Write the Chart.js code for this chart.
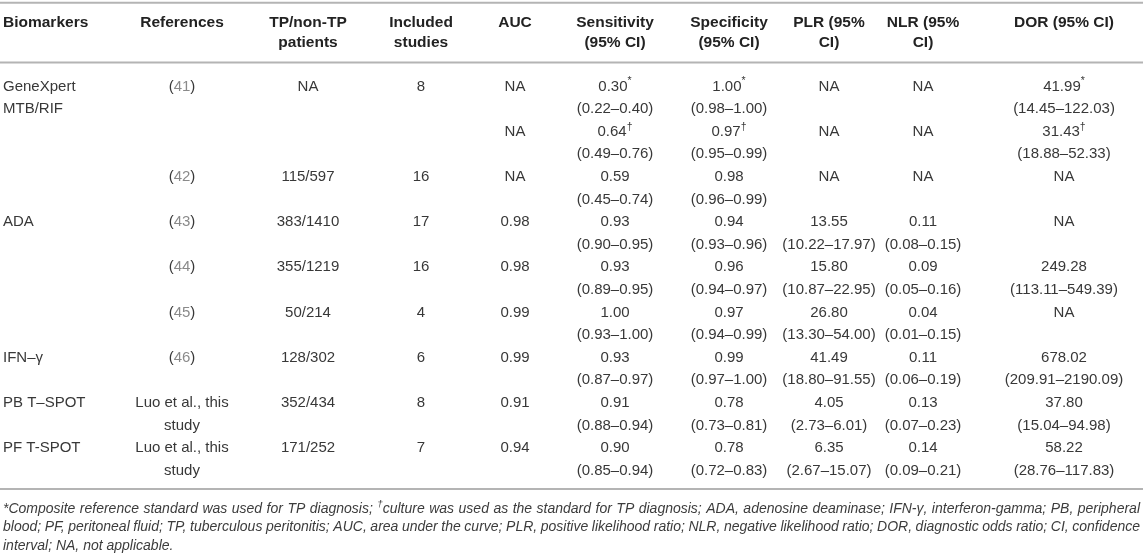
<!DOCTYPE html>
<html>
<head>
<meta charset="utf-8">
<script src="https://cdn.jsdelivr.net/npm/chart.js@4.4.1/dist/chart.umd.min.js"></script>
<style>
  html, body { margin: 0; padding: 0; background: #fff; }
  #wrap { width: 1143px; height: 559px; position: relative; }
</style>
</head>
<body>
<div id="wrap"><canvas id="tableChart"></canvas></div>
<script>
// table contents, one entry per row
const headers = [
    ['Biomarkers'], ['References'], ['TP/non-TP', 'patients'], ['Included', 'studies'], ['AUC'],
    ['Sensitivity', '(95% CI)'], ['Specificity', '(95% CI)'], ['PLR (95%', 'CI)'], ['NLR (95%', 'CI)'], ['DOR (95% CI)']
];
const biomarkers = ['GeneXpert\nMTB/RIF', '', '', 'ADA', '', '', 'IFN–γ', 'PB T–SPOT', 'PF T-SPOT'];
const references = ['(41)', '', '(42)', '(43)', '(44)', '(45)', '(46)', 'Luo et al., this\nstudy', 'Luo et al., this\nstudy'];
const patients = ['NA', '', '115/597', '383/1410', '355/1219', '50/214', '128/302', '352/434', '171/252'];
const studies = ['8', '', '16', '17', '16', '4', '6', '8', '7'];
const auc = ['NA', 'NA', 'NA', '0.98', '0.98', '0.99', '0.99', '0.91', '0.94'];
const sensitivity = ['0.30*', '0.64†', '0.59', '0.93', '0.93', '1.00', '0.93', '0.91', '0.90'];
const sensitivityCI = ['(0.22–0.40)', '(0.49–0.76)', '(0.45–0.74)', '(0.90–0.95)', '(0.89–0.95)', '(0.93–1.00)', '(0.87–0.97)', '(0.88–0.94)', '(0.85–0.94)'];
const specificity = ['1.00*', '0.97†', '0.98', '0.94', '0.96', '0.97', '0.99', '0.78', '0.78'];
const specificityCI = ['(0.98–1.00)', '(0.95–0.99)', '(0.96–0.99)', '(0.93–0.96)', '(0.94–0.97)', '(0.94–0.99)', '(0.97–1.00)', '(0.73–0.81)', '(0.72–0.83)'];
const plr = ['NA', 'NA', 'NA', '13.55', '15.80', '26.80', '41.49', '4.05', '6.35'];
const plrCI = ['', '', '', '(10.22–17.97)', '(10.87–22.95)', '(13.30–54.00)', '(18.80–91.55)', '(2.73–6.01)', '(2.67–15.07)'];
const nlr = ['NA', 'NA', 'NA', '0.11', '0.09', '0.04', '0.11', '0.13', '0.14'];
const nlrCI = ['', '', '', '(0.08–0.15)', '(0.05–0.16)', '(0.01–0.15)', '(0.06–0.19)', '(0.07–0.23)', '(0.09–0.21)'];
const dor = ['41.99*', '31.43†', 'NA', 'NA', '249.28', 'NA', '678.02', '37.80', '58.22'];
const dorCI = ['(14.45–122.03)', '(18.88–52.33)', '', '', '(113.11–549.39)', '', '(209.91–2190.09)', '(15.04–94.98)', '(28.76–117.83)'];
const footnotes = [
    '*Composite reference standard was used for TP diagnosis; †culture was used as the standard for TP diagnosis; ADA, adenosine deaminase; IFN-γ, interferon-gamma; PB, peripheral',
    'blood; PF, peritoneal fluid; TP, tuberculous peritonitis; AUC, area under the curve; PLR, positive likelihood ratio; NLR, negative likelihood ratio; DOR, diagnostic odds ratio; CI, confidence',
    'interval; NA, not applicable.'
];

// layout (table units = px, rows = text lines)
const FONT = '"Liberation Sans", Arial, Helvetica, sans-serif';
const colX = [3, 182, 308, 421, 515, 615, 729, 829, 923, 1064];
const colAlign = ['left', 'center', 'center', 'center', 'center', 'center', 'center', 'center', 'center', 'center'];
const headY = [-2.82, -1.92];
const ruleY = [-3.7, -1.06, 17.81];
const footY = [18.69, 19.5, 20.33];
const FOOT_RIGHT = 1140;
const REF_COLOR = '#8a8a8a';

// each column: value on line 2*row, CI (or wrapped text) on line 2*row+1
const columns = [
    [biomarkers], [references], [patients], [studies], [auc],
    [sensitivity, sensitivityCI], [specificity, specificityCI], [plr, plrCI], [nlr, nlrCI], [dor, dorCI]
];

function cellLines(col, r) {
    if (col.length === 2) return [col[0][r], col[1][r]];
    return col[0][r].split('\n');
}

const datasets = [];

// horizontal rules
ruleY.forEach(y => {
    datasets.push({
        type: 'line',
        data: [{x: 0, y: y}, {x: 1143, y: y}],
        borderColor: '#b4b4b4',
        borderWidth: 2,
        pointRadius: 0,
        clip: false
    });
});

// header cells
headers.forEach((h, c) => {
    datasets.push({
        type: 'scatter',
        data: h.map((t, i) => ({x: colX[c], y: headY[i], t: t})),
        pointRadius: 0,
        textCells: true,
        textAlign: colAlign[c],
        textFont: 'bold 15.5px ' + FONT,
        textColor: '#222222'
    });
});

// body cells
columns.forEach((col, c) => {
    const pts = [];
    for (let r = 0; r < 9; r++) {
        cellLines(col, r).forEach((t, i) => {
            if (t) pts.push({x: colX[c], y: 2 * r + i, t: t});
        });
    }
    datasets.push({
        type: 'scatter',
        data: pts,
        pointRadius: 0,
        textCells: true,
        textAlign: colAlign[c],
        textFont: '15px ' + FONT,
        textColor: '#383838'
    });
});

// footnote, first lines justified
datasets.push({
    type: 'scatter',
    data: footnotes.map((t, i) => ({x: 3, y: footY[i], t: t, justify: i < footnotes.length - 1})),
    pointRadius: 0,
    textCells: true,
    textAlign: 'left',
    textFont: 'italic 14px ' + FONT,
    textColor: '#3c3c3c'
});

// split a cell into normal / superscript / link-coloured pieces
function pieces(t) {
    const m = t.match(/^\((\d+)\)$/);
    if (m) return [{s: '('}, {s: m[1], color: REF_COLOR}, {s: ')'}];
    const out = [];
    let buf = '';
    for (let i = 0; i < t.length; i++) {
        const ch = t[i];
        if (ch === '†' || (ch === '*' && i === t.length - 1 && i > 0)) {
            if (buf) out.push({s: buf});
            buf = '';
            out.push({s: ch, sup: true});
        } else {
            buf += ch;
        }
    }
    if (buf) out.push({s: buf});
    return out;
}

function supFont(font) {
    return font.replace(/([\d.]+)px/, (_, n) => (parseFloat(n) * 0.7).toFixed(1) + 'px');
}

function measure(ctx, parts, font) {
    let w = 0;
    parts.forEach(p => {
        ctx.font = p.sup ? supFont(font) : font;
        p.w = ctx.measureText(p.s).width;
        w += p.w;
    });
    return w;
}

function drawParts(ctx, parts, x, y, font, color) {
    parts.forEach(p => {
        ctx.font = p.sup ? supFont(font) : font;
        ctx.fillStyle = p.color || color;
        ctx.fillText(p.s, x, p.sup ? y - 5 : y);
        x += p.w;
    });
    return x;
}

const tableText = {
    id: 'tableText',
    afterDatasetsDraw(chart) {
        const ctx = chart.ctx;
        const xScale = chart.scales.x;
        chart.data.datasets.forEach((ds, di) => {
            if (!ds.textCells) return;
            const meta = chart.getDatasetMeta(di);
            meta.data.forEach((el, i) => {
                const d = ds.data[i];
                ctx.save();
                ctx.textBaseline = 'middle';
                ctx.textAlign = 'left';
                if (d.justify) {
                    const words = d.t.split(' ').map(w => pieces(w));
                    let total = 0;
                    words.forEach(wp => { total += measure(ctx, wp, ds.textFont); });
                    const gap = (xScale.getPixelForValue(FOOT_RIGHT) - el.x - total) / (words.length - 1);
                    let x = el.x;
                    words.forEach(wp => {
                        x = drawParts(ctx, wp, x, el.y, ds.textFont, ds.textColor) + gap;
                    });
                } else {
                    const parts = pieces(d.t);
                    const w = measure(ctx, parts, ds.textFont);
                    let x = el.x;
                    if (ds.textAlign === 'center') x -= w / 2;
                    drawParts(ctx, parts, x, el.y, ds.textFont, ds.textColor);
                }
                ctx.restore();
            });
        });
    }
};

new Chart(document.getElementById('tableChart'), {
    type: 'scatter',
    data: {datasets: datasets},
    options: {
        responsive: true,
        maintainAspectRatio: false,
        animation: false,
        layout: {padding: 0},
        plugins: {legend: {display: false}, tooltip: {enabled: false}},
        scales: {
            x: {type: 'linear', min: 0, max: 1143, display: false},
            y: {type: 'linear', reverse: true, min: -3.827, max: 20.907, display: false}
        }
    },
    plugins: [tableText]
});
</script>
</body>
</html>
